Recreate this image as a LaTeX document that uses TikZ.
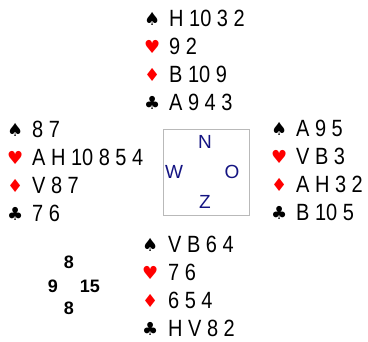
\documentclass[tikz,border=0pt]{standalone}
\usepackage{fontspec}
\setmainfont{Liberation Sans}
\newfontfamily\cardfont{Liberation Sans}[FakeStretch=0.85]
\newfontfamily\suitfont{DejaVu Sans}
\definecolor{windblue}{RGB}{20,20,130}

\begin{document}
\begin{tikzpicture}[x=1pt,y=-1pt,
    suit/.style={inner sep=0pt,anchor=base west,font=\suitfont\fontsize{18}{18}\selectfont},
    cards/.style={inner sep=0pt,anchor=base west,font=\cardfont\fontsize{23.5}{23.5}\selectfont},
    wind/.style={inner sep=0pt,text=windblue,font=\fontsize{19}{19}\selectfont},
    points/.style={inner sep=0pt,font=\bfseries\fontsize{18}{18}\selectfont}]
        \useasboundingbox (0,0) rectangle (368,342) ;
        % noord
        \foreach \s/\c/\k [count=\i] in {♠/black/H 10 3 2,♥/red/9 2,♦/red/B 10 9,♣/black/A 9 4 3}{
          \node[suit,text=\c] (N-s\i) at (144,{26+27.7*(\i-1)}) {\s} ;
          \node[cards] (N-\i) at (169,{27+27.7*(\i-1)}) {\k} ;
        }
        % west
        \foreach \s/\c/\k [count=\i] in {♠/black/8 7,♥/red/A H 10 8 5 4,♦/red/V 8 7,♣/black/7 6}{
          \node[suit,text=\c] (W-s\i) at (7,{137+27.7*(\i-1)}) {\s} ;
          \node[cards] (W-\i) at (32,{138+27.7*(\i-1)}) {\k} ;
        }
        % oost
        \foreach \s/\c/\k [count=\i] in {♠/black/A 9 5,♥/red/V B 3,♦/red/A H 3 2,♣/black/B 10 5}{
          \node[suit,text=\c] (O-s\i) at (271,{136+27.7*(\i-1)}) {\s} ;
          \node[cards] (O-\i) at (296,{137+27.7*(\i-1)}) {\k} ;
        }
        % zuid
        \foreach \s/\c/\k [count=\i] in {♠/black/V B 6 4,♥/red/7 6,♦/red/6 5 4,♣/black/H V 8 2}{
          \node[suit,text=\c] (Z-s\i) at (142,{252+28*(\i-1)}) {\s} ;
          \node[cards] (Z-\i) at (168,{253+28*(\i-1)}) {\k} ;
        }
        % tafel
        \node[draw=gray!55,minimum width=86pt,minimum height=86pt,inner sep=0pt]
        (tafel) at (206,172) {} ;
        \node[wind] (wN) at (205,142) {N} ;
        \node[wind] (wW) at (174,172) {W} ;
        \node[wind] (wO) at (232,172) {O} ;
        \node[wind] (wZ) at (205,202) {Z} ;
        % punten
        \node[points] (pN) at (69,262) {8} ;
        \node[points] (pW) at (53,286) {9} ;
        \node[points] (pO) at (90,286) {15} ;
        \node[points] (pZ) at (69,308) {8} ;
\end{tikzpicture}
\end{document}
